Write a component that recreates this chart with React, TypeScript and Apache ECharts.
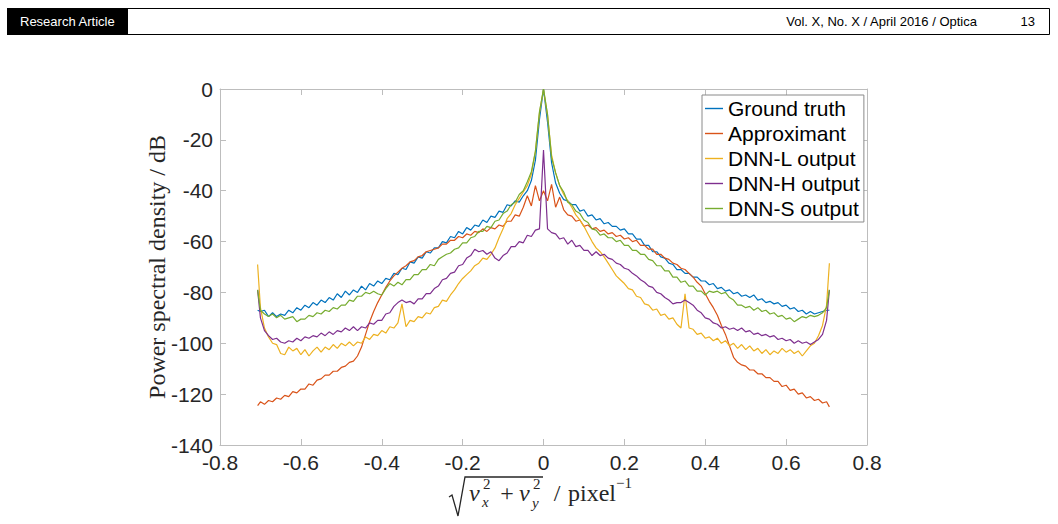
import React, { useEffect, useRef } from "react";
import * as echarts from "echarts";

// spatial frequency sample positions (pixel^-1)
const FREQ = [
  -0.707,
  -0.7, -0.69, -0.68, -0.67, -0.66, -0.65, -0.64, -0.63, -0.62, -0.61,
  -0.6, -0.59, -0.58, -0.57, -0.56, -0.55, -0.54, -0.53, -0.52, -0.51,
  -0.5, -0.49, -0.48, -0.47, -0.46, -0.45, -0.44, -0.43, -0.42, -0.41,
  -0.4, -0.39, -0.38, -0.37, -0.36, -0.35, -0.34, -0.33, -0.32, -0.31,
  -0.3, -0.29, -0.28, -0.27, -0.26, -0.25, -0.24, -0.23, -0.22, -0.21,
  -0.2, -0.19, -0.18, -0.17, -0.16, -0.15, -0.14, -0.13, -0.12, -0.11,
  -0.1, -0.09, -0.08, -0.07, -0.06, -0.05, -0.04, -0.03, -0.02, -0.01,
  0,
  0.01, 0.02, 0.03, 0.04, 0.05, 0.06, 0.07, 0.08, 0.09, 0.1,
  0.11, 0.12, 0.13, 0.14, 0.15, 0.16, 0.17, 0.18, 0.19, 0.2,
  0.21, 0.22, 0.23, 0.24, 0.25, 0.26, 0.27, 0.28, 0.29, 0.3,
  0.31, 0.32, 0.33, 0.34, 0.35, 0.36, 0.37, 0.38, 0.39, 0.4,
  0.41, 0.42, 0.43, 0.44, 0.45, 0.46, 0.47, 0.48, 0.49, 0.5,
  0.51, 0.52, 0.53, 0.54, 0.55, 0.56, 0.57, 0.58, 0.59, 0.6,
  0.61, 0.62, 0.63, 0.64, 0.65, 0.66, 0.67, 0.68, 0.69, 0.7,
  0.707,
];

const GROUND_TRUTH = [
  -87,
  -87.5, -87, -89.5, -88, -89.5, -88.5, -89, -87, -88, -86,
  -87, -85, -86, -84, -85, -83, -84, -82, -83, -80.5,
  -82, -79.5, -81, -79, -80, -77.5, -79, -76.5, -77.5, -75.5,
  -76.5, -74.5, -75, -72.5, -73, -70.5, -71, -68, -68.5, -66,
  -66.5, -64, -64.5, -62.5, -62.5, -60, -60.5, -58, -58.5, -56,
  -57, -54.5, -55.5, -53.5, -54, -51.5, -52.5, -50, -50.5, -48,
  -48.5, -45.5, -46, -44, -44.5, -42, -40, -36, -28, -12,
  0,
  -13, -29, -37, -41, -43.5, -44, -45.5, -45.5, -48, -47.5,
  -50, -49.5, -51.5, -51, -53, -52.5, -54, -54, -55.5, -55,
  -57, -57, -59, -59, -61.5, -61.5, -64, -64, -66, -66.5,
  -68.5, -69, -71, -71, -72.5, -72.5, -74, -74, -75.5, -75.5,
  -77, -76.5, -78.5, -78, -79.5, -79, -80.5, -80, -81.5, -81,
  -82, -81, -83, -82.5, -84, -83.5, -84.5, -84, -85.5, -85,
  -86.5, -86, -87.5, -87, -88.5, -87.5, -88.5, -88, -87.5, -87,
  -87,
];

const APPROXIMANT = [
  -124.5,
  -123, -124, -122.5, -123, -121.5, -122, -120.5, -121, -119, -119.5,
  -118, -118, -116, -116.5, -114.5, -114, -112.5, -112.5, -111, -111,
  -109.5, -109, -107.5, -107, -105, -101.5, -96.5, -91.5, -87.5, -84,
  -81, -78, -75.5, -73.5, -72, -70.5, -69.5, -68, -67.5, -66,
  -65.5, -64, -63.5, -63, -62.5, -61, -61, -59.5, -59.5, -58,
  -58.5, -57, -57.5, -56, -56.5, -55, -56, -54.5, -55, -53.5,
  -54, -52, -52, -49.5, -50, -46.5, -42, -46, -38, -44,
  -40,
  -44, -37.5, -46.5, -42.5, -47.5, -49.5, -50, -52, -51.5, -54,
  -53.5, -55, -54.5, -56, -55.5, -57, -56.5, -58, -57.5, -59,
  -58.5, -60, -59.5, -61.5, -61.5, -63, -63, -65, -65, -66.5,
  -67, -68.5, -69, -70.5, -71, -72.5, -74, -76, -77.5, -80.5,
  -83.5, -86, -89, -93, -96.5, -101, -105.5, -107.5, -108.5, -109,
  -110.5, -110.5, -112, -112, -113.5, -113.5, -115, -115, -117, -116.5,
  -118.5, -118, -120, -119.5, -121.5, -121, -122.5, -122, -123.5, -123,
  -125,
];

const DNN_L = [
  -69,
  -86, -94, -97.5, -100, -100.5, -104, -104.5, -101.5, -103, -102,
  -104.5, -102.5, -105, -103, -101.5, -103.5, -101.5, -102.5, -100.5, -102,
  -100, -101, -99.5, -101, -99.5, -100, -97.5, -98.5, -96.5, -97,
  -95, -96, -93.5, -94, -92, -84.5, -93.5, -91, -91.5, -89.5,
  -90, -88, -88.5, -86, -85.5, -83, -83.5, -81, -79, -76.5,
  -74.5, -73, -71.5, -69.5, -68.5, -66.5, -67, -65, -62.5, -58.5,
  -55, -51, -49, -45.5, -43, -40.5, -38, -33.5, -24.5, -9.5,
  0,
  -10.5, -26, -33, -38, -41.5, -44, -46.5, -49.5, -51.5, -54,
  -57, -60, -62.5, -64, -66, -68.5, -71, -73.5, -75, -76.5,
  -78.5, -79, -81.5, -82, -84.5, -85, -87, -86.5, -89, -88.5,
  -90.5, -90, -92.5, -94, -80.5, -94, -94.5, -96.5, -96, -98,
  -97.5, -99, -98, -100, -99, -101, -100, -102, -100.5, -102.5,
  -101, -103, -102, -104, -102.5, -104.5, -103, -104, -102, -103.5,
  -102.5, -104, -103, -105, -103, -101, -100, -97, -93, -85,
  -68.5,
];

const DNN_H = [
  -79,
  -90, -95, -97, -98.5, -98, -99.5, -100, -99, -99.5, -98,
  -99, -97.5, -98, -97, -97.5, -96, -97, -95.5, -96.5, -95,
  -95.5, -94, -95, -93.5, -95, -93.5, -94, -92, -92.5, -91,
  -91, -88.5, -88, -85.5, -84, -83, -84, -83.5, -84.5, -82.5,
  -82.5, -80.5, -80.5, -78.5, -77.5, -75, -74.5, -72.5, -72, -69.5,
  -69, -66.5, -65.5, -63, -64, -63.5, -65, -64, -66.5, -67.5,
  -65.5, -64.5, -62, -62, -60, -60.5, -57.5, -58, -55.5, -55,
  -24,
  -55, -56.5, -57, -59, -58.5, -61, -59.5, -62, -61.5, -63.5,
  -63.5, -65.5, -64, -65.5, -65, -66.5, -67, -68.5, -69, -70.5,
  -71, -72.5, -73.5, -75, -76, -77.5, -78, -80, -80.5, -82,
  -83, -84.5, -84, -84, -83, -84, -85, -87, -88, -90,
  -90.5, -92, -92.5, -94, -93.5, -94.5, -94, -95, -94, -95.5,
  -95, -96.5, -96, -97, -96.5, -97.5, -97, -98.5, -98, -99,
  -98.5, -100, -99, -100, -99.5, -100.5, -99.5, -98.5, -96.5, -91,
  -79,
];

const DNN_S = [
  -79,
  -87, -88.5, -89.5, -88.5, -90, -89, -90.5, -90, -89.5, -91.5,
  -90.5, -90.5, -89, -89.5, -88, -88.5, -87, -87.5, -86, -86.5,
  -85, -85, -83, -83.5, -81.5, -81.5, -80, -80.5, -79.5, -80.5,
  -81, -78.5, -76.5, -77.5, -76, -77, -75, -75, -73, -73,
  -71, -71, -69, -69.5, -67, -66, -65, -64.5, -63, -62.5,
  -60.5, -60.5, -58.5, -58, -56, -56, -54, -54.5, -52, -51.5,
  -49, -48, -45.5, -44.5, -41.5, -40, -36.5, -32.5, -24.5, -9,
  0,
  -10, -27, -33, -38, -40.5, -44.5, -45.5, -48, -49, -51.5,
  -52.5, -55, -55.5, -57.5, -57, -58.5, -58.5, -60, -59.5, -61.5,
  -61.5, -63.5, -63.5, -65, -65, -67, -67.5, -69.5, -69.5, -71.5,
  -71.5, -74, -74, -76, -75.5, -77.5, -77.5, -79.5, -79.5, -81,
  -79.5, -80, -79.5, -80.5, -80, -82, -83, -85, -85, -86,
  -85.5, -87, -86, -87.5, -87, -88.5, -88, -89.5, -89, -90.5,
  -90, -91.5, -90.5, -89.5, -90, -89, -89.5, -89, -88, -86,
  -79,
];

const SERIES_NAMES = ["Ground truth", "Approximant", "DNN-L output", "DNN-H output", "DNN-S output"];
const SERIES_VALUES = [GROUND_TRUTH, APPROXIMANT, DNN_L, DNN_H, DNN_S];
const COLORS = ["#0072BD", "#D95319", "#EDB120", "#7E2F8E", "#77AC30"];

const X_MIN = -0.8;
const X_MAX = 0.8;
const X_STEP = 0.2;
const Y_MIN = -140;
const Y_MAX = 0;
const Y_STEP = 20;

const AXIS_COLOR = "#bdbdbd";
const TEXT_COLOR = "#262626";
const SANS = "'Liberation Sans', Arial, Helvetica, sans-serif";
const SERIF = "'Liberation Serif', 'Times New Roman', serif";

function makeAxis(kind: "x" | "y", position: string, labels: boolean): any {
  const isX = kind === "x";
  return {
    type: "value",
    position,
    min: isX ? X_MIN : Y_MIN,
    max: isX ? X_MAX : Y_MAX,
    interval: isX ? X_STEP : Y_STEP,
    axisLine: { show: true, onZero: false, lineStyle: { color: AXIS_COLOR, width: 1 } },
    axisTick: { show: true, inside: true, length: 6, lineStyle: { color: AXIS_COLOR, width: 1 } },
    axisLabel: {
      show: labels,
      color: TEXT_COLOR,
      fontSize: 21,
      fontFamily: SANS,
      margin: 7,
      formatter: (v: number) => String(Number(v.toFixed(1))),
    },
    splitLine: { show: false },
  };
}

export default function App() {
  const ref = useRef<HTMLDivElement>(null);

  useEffect(() => {
    if (!ref.current) return;
    const chart = echarts.init(ref.current, undefined, { renderer: "svg" });

    const series = SERIES_NAMES.map((name, i) => ({
      name,
      type: "line",
      xAxisIndex: 0,
      yAxisIndex: 0,
      showSymbol: false,
      symbol: "none",
      data: FREQ.map((x, j) => [x, SERIES_VALUES[i][j]]),
      lineStyle: { color: COLORS[i], width: 1.2 },
      itemStyle: { color: COLORS[i] },
    }));

    const mathText = (text: string, x: number, y: number, size: number, italic: boolean, align = "left") => ({
      type: "text",
      x,
      y,
      silent: true,
      style: {
        text,
        fill: TEXT_COLOR,
        fontSize: size,
        fontFamily: SERIF,
        fontStyle: italic ? "italic" : "normal",
        align,
        verticalAlign: "middle",
      },
    });

    chart.setOption({
      animation: false,
      backgroundColor: "#ffffff",
      color: COLORS,
      grid: { left: 220, top: 89, width: 647, height: 356, containLabel: false },
      xAxis: [makeAxis("x", "bottom", true), makeAxis("x", "top", false)],
      yAxis: [makeAxis("y", "left", true), makeAxis("y", "right", false)],
      legend: {
        data: SERIES_NAMES,
        orient: "vertical",
        left: 702,
        top: 95,
        icon: "rect",
        itemWidth: 18,
        itemHeight: 1.4,
        itemGap: 0,
        itemTextGap: 1,
        padding: [1, 4, 1, 3],
        selectedMode: false,
        backgroundColor: "#ffffff",
        borderColor: "#8a8a8a",
        borderWidth: 1,
        textStyle: { color: "#000000", fontSize: 21, fontFamily: SANS, lineHeight: 25 },
      },
      graphic: [
        // page header
        { type: "rect", shape: { x: 7.5, y: 8.5, width: 1042, height: 26 }, style: { fill: "#ffffff", stroke: "#000000", lineWidth: 1 } },
        { type: "rect", shape: { x: 7, y: 8, width: 121, height: 27 }, style: { fill: "#000000" } },
        { type: "text", x: 20, y: 21.5, style: { text: "Research Article", fill: "#ffffff", fontSize: 13, fontFamily: SANS, verticalAlign: "middle" } },
        { type: "text", x: 977, y: 21.5, style: { text: "Vol. X, No. X / April 2016 / Optica", fill: "#000000", fontSize: 13, fontFamily: SANS, align: "right", verticalAlign: "middle" } },
        { type: "text", x: 1035, y: 21.5, style: { text: "13", fill: "#000000", fontSize: 13, fontFamily: SANS, align: "right", verticalAlign: "middle" } },
        // y axis title
        {
          type: "text",
          x: 157,
          y: 267,
          rotation: Math.PI / 2,
          style: { text: "Power spectral density / dB", fill: TEXT_COLOR, fontSize: 24, fontFamily: SERIF, align: "center", verticalAlign: "middle" },
        },
        // x axis title: sqrt(v_x^2 + v_y^2) / pixel^-1
        {
          type: "polyline",
          shape: { points: [[449, 497], [452, 495], [458, 516], [465, 477], [543, 477]] },
          style: { stroke: TEXT_COLOR, lineWidth: 1.3, fill: "none" },
        },
        mathText("v", 469, 493, 24, true),
        mathText("2", 483, 484, 15, false),
        mathText("x", 482, 502, 15, true),
        mathText("+", 507, 493, 24, false, "center"),
        mathText("v", 519, 493, 24, true),
        mathText("2", 533, 484, 15, false),
        mathText("y", 532, 503, 15, true),
        mathText("/", 557, 493, 24, false, "center"),
        mathText("pixel", 568, 493, 24, false),
        mathText("\u22121", 616, 483, 15, false),
      ],
      series,
    });

    return () => chart.dispose();
  }, []);

  return (
    <div
      ref={ref}
      style={{ position: "fixed", left: 0, top: 0, width: 1058, height: 524, background: "#ffffff" }}
    />
  );
}
